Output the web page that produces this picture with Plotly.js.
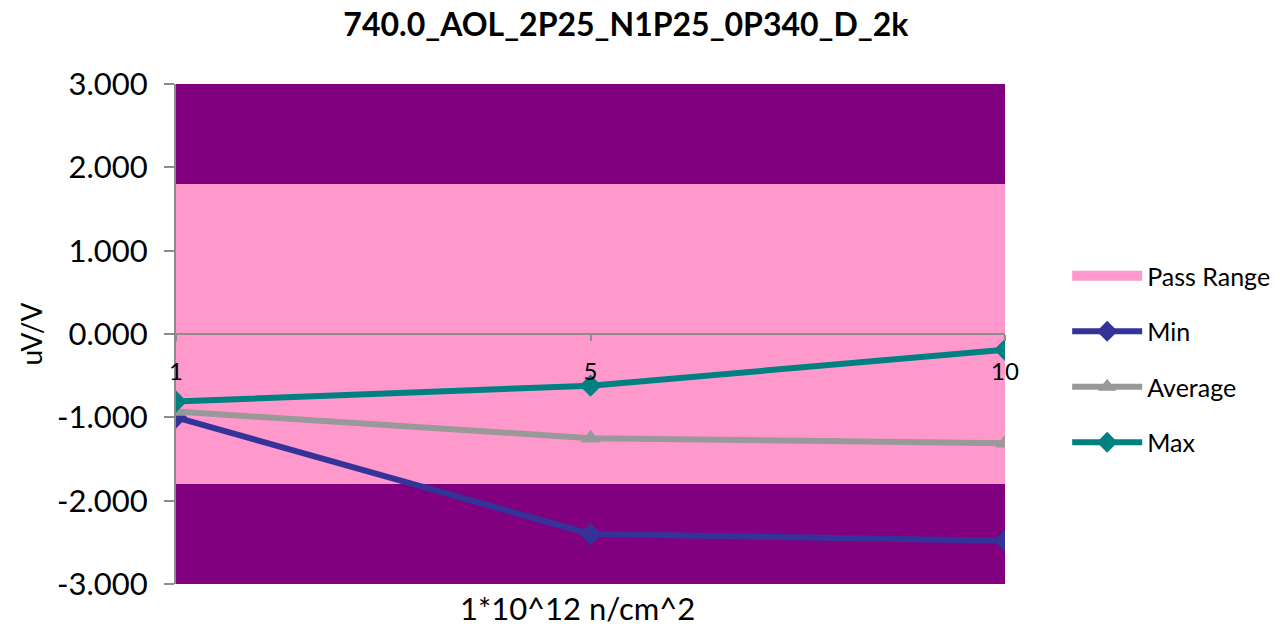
<!DOCTYPE html>
<html>
<head>
<meta charset="utf-8">
<script src="https://cdn.plot.ly/plotly-3.0.1.min.js"></script>
<style>html,body{margin:0;padding:0;background:#fff;}#chart{width:1280px;height:630px;}</style>
</head>
<body>
<div id="chart"></div>
<script>
const categories = ['1', '5', '10'];
const minValues = [-1.00, -2.40, -2.48];
const avgValues = [-0.93, -1.25, -1.31];
const maxValues = [-0.81, -0.62, -0.19];
const passUpper = 1.8;
const passLower = -1.8;
const yTicks = [3, 2, 1, 0, -1, -2, -3];
const yTickText = yTicks.map(v => v.toFixed(3));

const F = 'Lato, "Open Sans", sans-serif';

const first = categories[0], last = categories[categories.length - 1];
const traces = [
  {
    name: 'Pass Range', type: 'scatter', mode: 'lines',
    x: [first, last, last, first, first],
    y: [passUpper, passUpper, passLower, passLower, passUpper],
    fill: 'toself', fillcolor: '#ff99cc', line: {width: 0, color: '#ff99cc'},
    hoverinfo: 'skip', showlegend: false
  },
  {
    name: 'Pass Range', type: 'scatter', mode: 'lines',
    x: [null], y: [null],
    line: {color: '#ff99cc', width: 18},
    legendgroup: 'a'
  },
  {
    name: 'Min', type: 'scatter', mode: 'lines+markers', x: categories, y: minValues,
    line: {color: '#333399', width: 6}, marker: {symbol: 'diamond', size: 17, color: '#333399'},
    legendgroup: 'b'
  },
  {
    name: 'Average', type: 'scatter', mode: 'lines+markers', x: categories, y: avgValues,
    line: {color: '#999999', width: 6}, marker: {symbol: 'triangle-up', size: 17, color: '#999999'},
    legendgroup: 'c'
  },
  {
    name: 'Max', type: 'scatter', mode: 'lines+markers', x: categories, y: maxValues,
    line: {color: '#008080', width: 6}, marker: {symbol: 'diamond', size: 17, color: '#008080'},
    legendgroup: 'd'
  }
];

const layout = {
  width: 1280, height: 630,
  margin: {l: 176, r: 275, t: 84, b: 46, autoexpand: false},
  paper_bgcolor: '#ffffff',
  plot_bgcolor: '#800080',
  font: {family: F, color: '#000'},
  title: {text: '<b>740.0_AOL_2P25_N1P25_0P340_D_2k</b>', x: 0.489, xanchor: 'center', y: 0.96, yanchor: 'middle',
          font: {family: F, size: 32, color: '#000'}},
  xaxis: {
    type: 'category', categoryorder: 'array', categoryarray: categories,
    range: [0, categories.length - 1],
    anchor: 'free', position: 0.5,
    showgrid: false, zeroline: false,
    showline: true, linecolor: '#8c8c8c', linewidth: 2,
    ticks: 'outside', ticklen: 6, tickcolor: '#8c8c8c', tickwidth: 2,
    ticklabelstandoff: 10,
    tickfont: {family: F, size: 24, color: '#000'}
  },
  yaxis: {
    range: [-3, 3], tickvals: yTicks, ticktext: yTickText,
    showgrid: false, zeroline: false,
    showline: true, linecolor: '#8c8c8c', linewidth: 2,
    ticks: 'outside', ticklen: 10, tickcolor: '#8c8c8c', tickwidth: 2,
    ticklabelstandoff: 10,
    tickfont: {family: F, size: 31, color: '#000'},
    title: {text: 'uV/V', font: {family: F, size: 28, color: '#000'}, standoff: 6}
  },
  legend: {
    x: 1.075, xanchor: 'left', y: 0.45, yanchor: 'middle',
    font: {family: F, size: 25, color: '#000'},
    traceorder: 'grouped', tracegroupgap: 20, itemwidth: 70,
    bgcolor: 'rgba(0,0,0,0)'
  },
  annotations: [
    {text: '1*10^12 n/cm^2', xref: 'paper', yref: 'paper', x: (577 - 176) / 829, y: -0.048,
     xanchor: 'center', yanchor: 'middle', showarrow: false, font: {family: F, size: 31, color: '#000'}}
  ],
  showlegend: true
};

Plotly.newPlot('chart', traces, layout, {displayModeBar: false, staticPlot: true});
</script>
</body>
</html>
